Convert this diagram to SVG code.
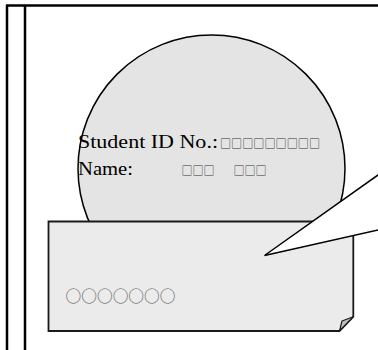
<svg xmlns="http://www.w3.org/2000/svg" width="378" height="350" viewBox="0 0 378 350">
<style>
.frame{stroke:#000;stroke-width:2.5;fill:none}
.lbl{font-family:"Liberation Serif","Times New Roman",serif;font-size:19px;fill:#000}
.box{font-family:"Noto Sans CJK JP","DejaVu Sans",sans-serif;font-size:11.5px;fill:#333}
.circ{font-family:"Noto Sans CJK JP","DejaVu Sans",sans-serif;font-size:15.5px;fill:#5a5a5a}
</style>
<rect width="378" height="350" fill="#fff"/>
<g id="frame">
<line class="frame" x1="6" y1="5.5" x2="378" y2="5.5"/>
<line class="frame" x1="7" y1="5" x2="7" y2="350"/>
<line class="frame" x1="25" y1="5" x2="25" y2="350"/>
</g>
<g id="badge">
<circle cx="211.5" cy="168.5" r="133.5" fill="#e4e4e4" stroke="#000" stroke-width="1.5"/>
<text class="lbl" x="78" y="147.5" textLength="140" lengthAdjust="spacingAndGlyphs">Student ID No.:</text>
<text class="box" x="220" y="147.5" textLength="100" lengthAdjust="spacingAndGlyphs">□□□□□□□□□</text>
<text class="lbl" x="78" y="175" textLength="55" lengthAdjust="spacingAndGlyphs">Name:</text>
<text class="box" x="181.5" y="175" textLength="33" lengthAdjust="spacingAndGlyphs">□□□</text>
<text class="box" x="233.5" y="175" textLength="33" lengthAdjust="spacingAndGlyphs">□□□</text>
</g>
<g id="note">
<path d="M48.5,221.5 H353.3 V316.7 L339.5,331 H48.5 Z" fill="#ebebeb" stroke="#1a1a1a" stroke-width="1.8" stroke-linejoin="miter"/>
<path d="M339.5,331 L342,321 L353.3,316.7 Z" fill="#c0c0c0" stroke="#1a1a1a" stroke-width="1.2" stroke-linejoin="round"/>
<text class="circ" x="65.5" y="301.5" textLength="110" lengthAdjust="spacingAndGlyphs">○○○○○○○</text>
</g>
<g id="connectors">
<path d="M380,173.6 L264.5,255.5 L380,229.5" fill="#fff" stroke="#000" stroke-width="1.5" stroke-linejoin="miter"/>
</g>
</svg>
